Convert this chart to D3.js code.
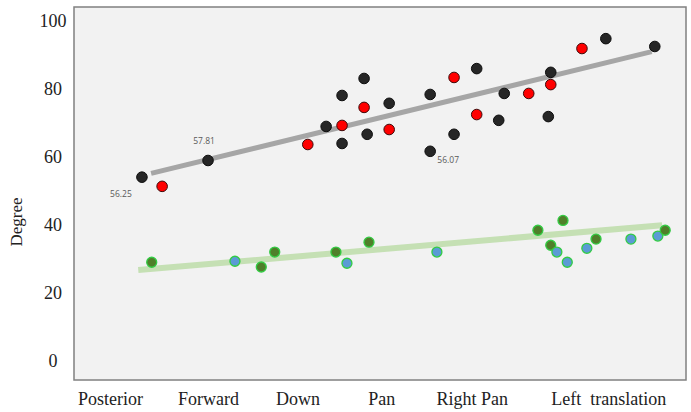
<!DOCTYPE html>
<html>
<head>
<meta charset="utf-8">
<script src="https://cdn.jsdelivr.net/npm/d3@7"></script>
<style>
  html, body { margin: 0; padding: 0; background: #ffffff; }
  svg { display: block; }
</style>
</head>
<body>
<svg id="chart" width="691" height="412"></svg>
<script>
// Movement categories along the horizontal axis, placed on a 0–100 position scale
const categoryLabels = ["Posterior", "Forward", "Down", "Pan", "Right Pan", "Left  translation"];
const categoryPositions = [5.9, 21.9, 36.5, 50.2, 65.0, 87.3];

// Y axis ticks
const yTicks = [0, 20, 40, 60, 80, 100];

// Upper group: black markers
const blackX = [11.1, 21.9, 41.2, 43.8, 43.8, 47.4, 47.9, 51.5, 58.2, 58.2, 62.1, 65.8, 69.4, 70.3, 77.5, 77.9, 86.9, 94.9];
const blackY = [54.0, 58.9, 68.9, 78.0, 63.9, 83.0, 66.6, 75.7, 78.3, 61.6, 66.6, 85.9, 70.7, 78.6, 71.8, 84.8, 94.7, 92.4];

// Upper group: red markers
const redX = [14.4, 38.2, 43.8, 47.4, 51.5, 62.1, 65.8, 74.3, 77.9, 83.0];
const redY = [51.3, 63.6, 69.2, 74.5, 68.0, 83.3, 72.4, 78.6, 81.2, 91.8];

// Lower group: dark green markers
const greenX = [12.7, 30.6, 32.8, 42.8, 48.2, 75.8, 77.9, 79.9, 85.3, 96.6];
const greenY = [29.0, 27.6, 32.0, 32.0, 34.9, 38.4, 34.0, 41.3, 35.8, 38.4];

// Lower group: blue markers
const blueX = [26.3, 44.6, 59.3, 78.9, 80.6, 83.8, 91.0, 95.4];
const blueY = [29.3, 28.7, 32.0, 32.0, 29.0, 33.1, 35.8, 36.7];

// Trend lines (start and end points)
const upperTrendX = [12.6, 94.4];
const upperTrendY = [55.1, 90.9];
const lowerTrendX = [10.5, 96.1];
const lowerTrendY = [26.7, 39.9];

// Value notes attached to individual black markers (index into black arrays)
const noteText = ["56.25", "57.81", "56.07"];
const noteIndex = [0, 1, 9];
const notePlacement = ["below-left", "above", "below-right"];

const svg = d3.select("#chart");
const W = 691, H = 412;
const plot = { left: 74, right: 686, top: 7, bottom: 380 };

const x = d3.scaleLinear().domain([0, 100]).range([plot.left, plot.right]);
const y = d3.scaleLinear().domain([-5.6, 104]).range([plot.bottom, plot.top]);

// Plot background and frame
svg.append("rect")
  .attr("x", plot.left).attr("y", plot.top)
  .attr("width", plot.right - plot.left).attr("height", plot.bottom - plot.top)
  .attr("fill", "#f2f2f2")
  .attr("stroke", "#808080")
  .attr("stroke-width", 1.5);

// Y axis: centred tick labels, no tick marks or domain line
const yAxis = d3.axisLeft(y).tickValues(yTicks).tickSize(0).tickPadding(0);
const yG = svg.append("g").attr("transform", "translate(53,0)").call(yAxis);
yG.select(".domain").remove();
yG.selectAll("text")
  .attr("text-anchor", "middle")
  .attr("x", 0)
  .attr("font-family", "'Liberation Serif', 'Times New Roman', serif")
  .attr("font-size", 18)
  .attr("fill", "#222");

// Y axis title
svg.append("text")
  .attr("transform", "translate(22,222) rotate(-90)")
  .attr("text-anchor", "middle")
  .attr("font-family", "'Liberation Serif', 'Times New Roman', serif")
  .attr("font-size", 17)
  .attr("fill", "#222")
  .text("Degree");

// X axis: category labels at their positions
const xAxis = d3.axisBottom(x).tickValues(categoryPositions)
  .tickFormat((d, i) => categoryLabels[i]).tickSize(0).tickPadding(0);
const xG = svg.append("g").attr("transform", "translate(0,392)").call(xAxis);
xG.select(".domain").remove();
xG.selectAll("text")
  .attr("font-family", "'Liberation Serif', 'Times New Roman', serif")
  .attr("font-size", 18)
  .attr("fill", "#222")
  .style("white-space", "pre")
  .attr("dy", "0.7em");

// Trend lines
const line = d3.line().x(d => x(d[0])).y(d => y(d[1]));
svg.append("path")
  .datum(d3.zip(lowerTrendX, lowerTrendY))
  .attr("d", line)
  .attr("fill", "none")
  .attr("stroke", "#c5e0b4")
  .attr("stroke-width", 6);
svg.append("path")
  .datum(d3.zip(upperTrendX, upperTrendY))
  .attr("d", line)
  .attr("fill", "none")
  .attr("stroke", "#a6a6a6")
  .attr("stroke-width", 5);

// Marker groups, drawn left to right so overlaps stack naturally
const upper = [
  ...blackX.map((v, i) => ({ x: v, y: blackY[i], fill: "#262626", stroke: "#0d0d0d" })),
  ...redX.map((v, i) => ({ x: v, y: redY[i], fill: "#ff0000", stroke: "#3b0a0a" }))
].sort((a, b) => a.x - b.x);

const lower = [
  ...greenX.map((v, i) => ({ x: v, y: greenY[i], fill: "#4f7f2a", stroke: "#33cc44" })),
  ...blueX.map((v, i) => ({ x: v, y: blueY[i], fill: "#5b9bd5", stroke: "#33cc44" }))
].sort((a, b) => a.x - b.x);

svg.append("g").selectAll("circle").data(lower).join("circle")
  .attr("cx", d => x(d.x)).attr("cy", d => y(d.y)).attr("r", 5)
  .attr("fill", d => d.fill).attr("stroke", d => d.stroke).attr("stroke-width", 1.3);

svg.append("g").selectAll("circle").data(upper).join("circle")
  .attr("cx", d => x(d.x)).attr("cy", d => y(d.y)).attr("r", 5.3)
  .attr("fill", d => d.fill).attr("stroke", d => d.stroke).attr("stroke-width", 1);

// Value notes
const offsets = {
  "below-left": [-21, 20],
  "above": [-4, -16],
  "below-right": [18, 12]
};
svg.append("g").selectAll("text").data(noteText).join("text")
  .attr("x", (d, i) => x(blackX[noteIndex[i]]) + offsets[notePlacement[i]][0])
  .attr("y", (d, i) => y(blackY[noteIndex[i]]) + offsets[notePlacement[i]][1])
  .attr("text-anchor", "middle")
  .attr("font-family", "'Open Sans', 'DejaVu Sans', sans-serif")
  .attr("font-size", 8.5)
  .attr("fill", "#595959")
  .text(d => d);
</script>
</body>
</html>
